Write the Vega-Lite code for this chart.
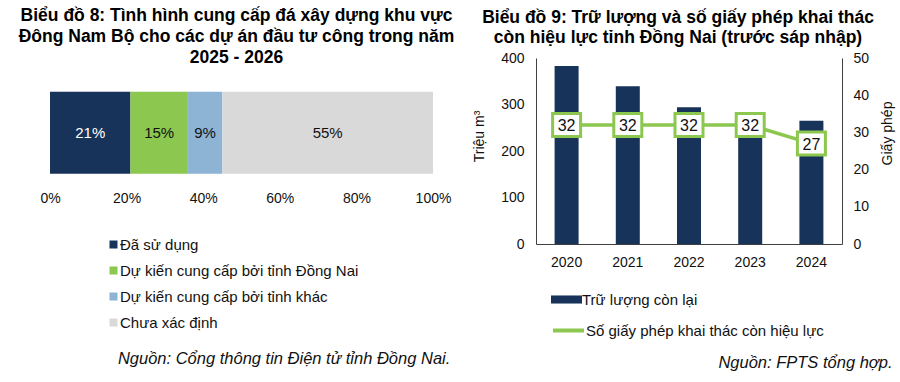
{
  "$schema": "https://vega.github.io/schema/vega-lite/v6.json",
  "padding": {"left": 18, "top": 6, "right": 5, "bottom": 5},
  "spacing": 17,
  "resolve": {"scale": {"color": "independent", "fill": "independent", "stroke": "independent"}},
  "config": {
    "font": "Liberation Sans",
    "view": {"stroke": null},
    "axis": {"labelFont": "Liberation Sans", "titleFont": "Liberation Sans", "labelColor": "#111111", "titleColor": "#111111", "grid": false},
    "legend": {"labelFont": "Liberation Sans", "labelColor": "#111111", "padding": 0, "labelLimit": 400}
  },
  "hconcat": [
    {
      "title": {"text": "Nguồn: Cổng thông tin Điện tử tỉnh Đồng Nai.", "orient": "bottom", "anchor": "end", "fontStyle": "italic", "fontWeight": "normal", "fontSize": 16.5, "color": "#111111", "offset": 20, "dx": -4},
      "resolve": {"scale": {"color": "independent"}},
      "vconcat": [
        {
          "width": 383,
          "height": 130,
          "title": {"text": ["Biểu đồ 8: Tình hình cung cấp đá xây dựng khu vực", "Đông Nam Bộ cho các dự án đầu tư công trong năm", "2025 - 2026"], "fontSize": 17.5, "fontWeight": "bold", "color": "#000000", "anchor": "middle", "frame": "group", "lineHeight": 21, "offset": -8, "dx": -5},
          "data": {"values": [
            {"row": "a", "cat": "Đã sử dụng", "pct": 0.21, "ord": 1},
            {"row": "a", "cat": "Dự kiến cung cấp bởi tỉnh Đồng Nai", "pct": 0.15, "ord": 2},
            {"row": "a", "cat": "Dự kiến cung cấp bởi tỉnh khác", "pct": 0.09, "ord": 3},
            {"row": "a", "cat": "Chưa xác định", "pct": 0.55, "ord": 4}
          ]},
          "layer": [
            {
              "mark": {"type": "bar", "size": 82},
              "encoding": {
                "y": {"field": "row", "type": "nominal", "axis": null, "scale": {"paddingInner": 0, "paddingOuter": 0.3, "align": 0.7}},
                "x": {"field": "pct", "type": "quantitative", "stack": "zero", "scale": {"domain": [0, 1]},
                  "axis": {"values": [0, 0.2, 0.4, 0.6, 0.8, 1], "format": ".0%", "domain": false, "ticks": false, "labelFontSize": 14, "labelPadding": 3, "labelFlush": false, "title": null}},
                "color": {"field": "cat", "type": "nominal",
                  "scale": {"domain": ["Đã sử dụng", "Dự kiến cung cấp bởi tỉnh Đồng Nai", "Dự kiến cung cấp bởi tỉnh khác", "Chưa xác định"], "range": ["#183359", "#8CC750", "#8DB3D5", "#D9D9D9"]},
                  "legend": {"orient": "none", "legendX": 56, "legendY": 179, "direction": "vertical", "title": null, "symbolType": "square", "symbolSize": 64, "symbolStrokeWidth": 0, "labelFontSize": 15, "rowPadding": 10, "labelOffset": -1}},
                "order": {"field": "ord", "type": "quantitative"}
              }
            },
            {
              "transform": [
                {"stack": "pct", "groupby": ["row"], "sort": [{"field": "ord", "order": "ascending"}], "as": ["x0", "x1"]},
                {"calculate": "(datum.x0 + datum.x1) / 2", "as": "mid"}
              ],
              "mark": {"type": "text", "fontSize": 15, "baseline": "middle", "align": "center"},
              "encoding": {
                "y": {"field": "row", "type": "nominal", "axis": null},
                "x": {"field": "mid", "type": "quantitative"},
                "text": {"field": "pct", "type": "quantitative", "format": ".0%"},
                "color": {"condition": {"test": "datum.ord === 1", "value": "#FFFFFF"}, "value": "#111111"}
              }
            }
          ]
        }
      ]
    },
    {
      "title": {"text": "Nguồn: FPTS tổng hợp.", "orient": "bottom", "anchor": "end", "fontStyle": "italic", "fontWeight": "normal", "fontSize": 16.5, "color": "#111111", "offset": 16, "dx": -2},
      "resolve": {"scale": {"fill": "independent", "stroke": "independent"}},
      "vconcat": [
        {
          "width": 306,
          "height": 186,
          "title": {"text": ["Biểu đồ 9: Trữ lượng và số giấy phép khai thác", "còn hiệu lực tỉnh Đồng Nai (trước sáp nhập)"], "fontSize": 17.5, "fontWeight": "bold", "color": "#000000", "anchor": "middle", "frame": "group", "lineHeight": 20.5, "offset": 4.5, "dx": -11},
          "data": {"values": [
            {"year": "2020", "reserve": 383, "lic": 32},
            {"year": "2021", "reserve": 339, "lic": 32},
            {"year": "2022", "reserve": 294, "lic": 32},
            {"year": "2023", "reserve": 278, "lic": 32},
            {"year": "2024", "reserve": 265, "lic": 27}
          ]},
          "layer": [
            {
              "mark": {"type": "bar", "size": 24},
              "encoding": {
                "x": {"field": "year", "type": "ordinal", "axis": {"labelAngle": 0, "domain": true, "domainColor": "#404040", "ticks": false, "labelFontSize": 14, "labelPadding": 11, "title": null}},
                "y": {"field": "reserve", "type": "quantitative", "scale": {"domain": [0, 400]},
                  "axis": {"values": [0, 100, 200, 300, 400], "domain": true, "domainColor": "#404040", "ticks": false, "labelFontSize": 14, "labelPadding": 12, "title": "Triệu m³", "titleFontSize": 14, "titleFontWeight": "normal", "titlePadding": 14, "titleY": 78}},
                "fill": {"datum": "Trữ lượng còn lại", "type": "nominal", "scale": {"range": ["#183359"]},
                  "legend": {"orient": "none", "legendX": 15, "legendY": 226, "title": null, "symbolType": "M-1,-0.26H1V0.26H-1Z", "symbolSize": 961, "symbolStrokeWidth": 0, "labelFontSize": 15, "labelOffset": 0}}
              }
            },
            {
              "encoding": {
                "x": {"field": "year", "type": "ordinal"},
                "y": {"field": "lic", "type": "quantitative", "scale": {"domain": [0, 50]},
                  "axis": {"orient": "right", "values": [0, 10, 20, 30, 40, 50], "tickCount": 6, "domain": true, "domainColor": "#404040", "ticks": false, "labelFontSize": 14, "labelPadding": 11, "labelOverlap": false, "labelBound": false, "title": "Giấy phép", "titleFontSize": 14, "titleFontWeight": "normal", "titlePadding": 12, "titleAngle": -90, "titleBaseline": "top", "titleY": 75}}
              },
              "layer": [
                {
                  "mark": {"type": "line", "strokeWidth": 3.5},
                  "encoding": {
                    "stroke": {"datum": "Số giấy phép khai thác còn hiệu lực", "type": "nominal", "scale": {"range": ["#8CC750"]},
                      "legend": {"orient": "none", "legendX": 15, "legendY": 255, "title": null, "symbolType": "stroke", "symbolSize": 961, "symbolStrokeWidth": 4, "labelFontSize": 15, "labelOffset": 0}}
                  }
                },
                {
                  "mark": {"type": "point", "shape": "M-1,-0.82H1V0.82H-1Z", "size": 784, "filled": true, "fill": "#FFFFFF", "stroke": "#8CC750", "strokeWidth": 3, "opacity": 1},
                  "encoding": {}
                },
                {
                  "mark": {"type": "text", "fontSize": 16, "color": "#111111", "baseline": "middle", "align": "center", "dy": 1},
                  "encoding": {
                    "text": {"field": "lic", "type": "quantitative"}
                  }
                }
              ]
            }
          ],
          "resolve": {"scale": {"y": "independent"}}
        }
      ]
    }
  ]
}
